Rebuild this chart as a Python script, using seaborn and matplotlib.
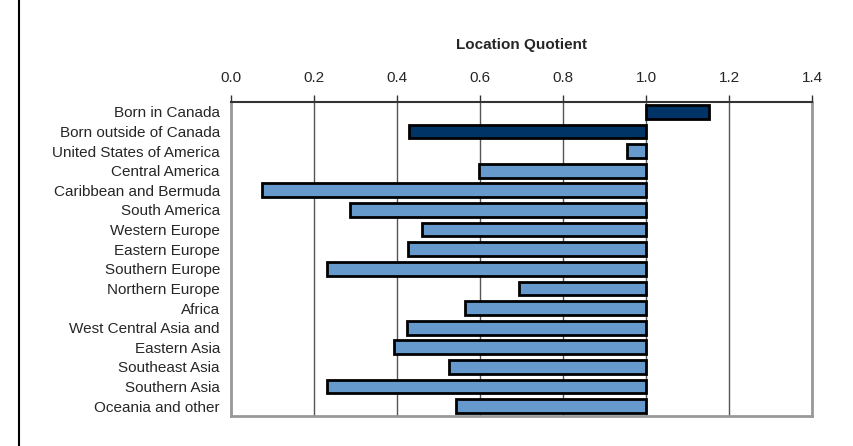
import matplotlib
matplotlib.use("Agg")
import matplotlib.pyplot as plt
from matplotlib.lines import Line2D
import seaborn as sns
import pandas as pd

# Location quotient by place of birth
labels = [
    "Born in Canada", "Born outside of Canada", "United States of America",
    "Central America", "Caribbean and Bermuda", "South America",
    "Western Europe", "Eastern Europe", "Southern Europe", "Northern Europe",
    "Africa", "West Central Asia and", "Eastern Asia", "Southeast Asia",
    "Southern Asia", "Oceania and other",
]
lq = [1.151, 0.430, 0.955, 0.598, 0.075, 0.287, 0.461, 0.426,
      0.232, 0.694, 0.564, 0.423, 0.392, 0.525, 0.232, 0.541]
xticks = [0.0, 0.2, 0.4, 0.6, 0.8, 1.0, 1.2, 1.4]

dark_blue = "#003366"
light_blue = "#6699CC"
colors = [dark_blue, dark_blue] + [light_blue] * (len(labels) - 2)

df = pd.DataFrame({"label": labels, "lq": lq})
# bars start at the 1.0 baseline
df["diff"] = df["lq"] - 1.0

sns.set_style("white")
plt.rcParams["font.family"] = ["Liberation Sans Narrow", "Liberation Sans", "DejaVu Sans"]

fig = plt.figure(figsize=(8.54, 4.46), dpi=100)
ax = fig.add_axes([231 / 854, 1 - 416 / 446, (812 - 231) / 854, (416 - 102) / 446])

sns.barplot(data=df, y="label", x="diff", hue="label", palette=colors,
            saturation=1, legend=False, left=1.0, width=0.7,
            edgecolor="black", linewidth=2, ax=ax, zorder=3)

ax.set_xlim(0, 1.4)
ax.set_xticks(xticks)
ax.set_xticklabels([f"{t:.1f}" for t in xticks], fontsize=11)
ax.xaxis.tick_top()
ax.xaxis.set_label_position("top")
ax.set_xlabel("Location Quotient", fontsize=11, fontweight="bold", labelpad=16)
ax.set_ylabel("")
ax.tick_params(axis="x", direction="out", length=5, width=1, color="#333333", pad=7)
ax.tick_params(axis="y", length=0, labelsize=11, pad=8)
ax.set_ylim(len(labels) - 0.5, -0.5)

ax.grid(axis="x", color="#555555", linewidth=1, zorder=0)
ax.set_axisbelow(True)
for side in ["left", "bottom", "right"]:
    ax.spines[side].set_color("#999999")
    ax.spines[side].set_linewidth(2)
ax.spines["top"].set_color("#333333")
ax.spines["top"].set_linewidth(1.5)

# left page border line
fig.add_artist(Line2D([19 / 854, 19 / 854], [0, 1], color="black", linewidth=1.5))

fig.savefig("out.png", dpi=100)
